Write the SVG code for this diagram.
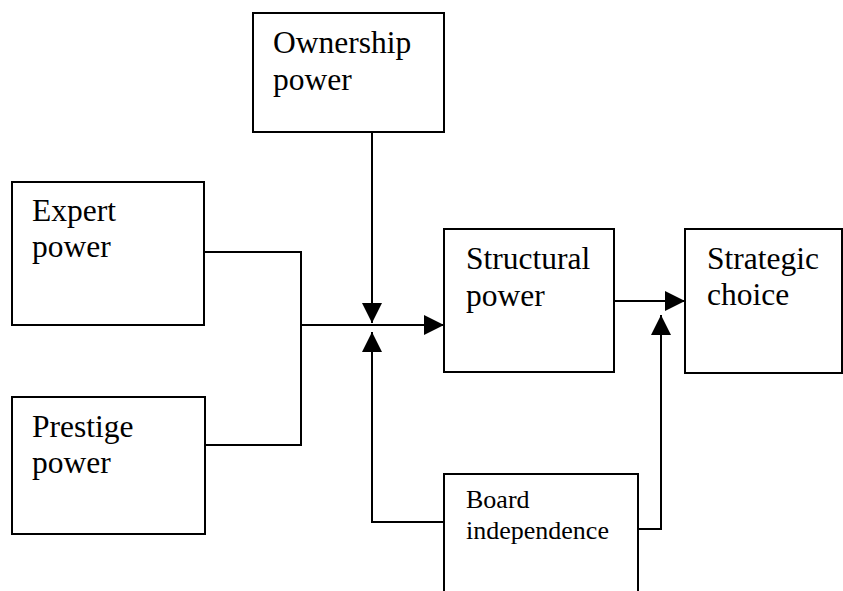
<svg xmlns="http://www.w3.org/2000/svg" width="843" height="591" viewBox="0 0 843 591" font-family="'Liberation Serif', 'Times New Roman', serif">
<style>
.box{fill:none;stroke:#000;stroke-width:2}
.t{font-family:'Liberation Serif','Times New Roman',serif;font-size:31.5px;fill:#000}
.s{font-size:26px}
.c{fill:none;stroke:#000;stroke-width:2}
</style>
<defs>
<marker id="ah" markerUnits="userSpaceOnUse" markerWidth="20" markerHeight="20" viewBox="0 0 20 20" refX="20" refY="10" orient="auto">
<path d="M0,0 L20,10 L0,20 Z" fill="#000"/>
</marker>
</defs>
<rect width="843" height="591" fill="#fff"/>
<g id="connectors">
<path class="c" d="M204,252 H301 V445 H205"/>
<path class="c" d="M301,325 H444" marker-end="url(#ah)"/>
<path class="c" d="M372,132 V323" marker-end="url(#ah)"/>
<path class="c" d="M444,522 H372 V332" marker-end="url(#ah)"/>
<path class="c" d="M614,301 H685" marker-end="url(#ah)"/>
<path class="c" d="M638,529 H661 V315" marker-end="url(#ah)"/>
</g>
<g id="ownership">
<rect class="box" x="253" y="13" width="191" height="119"/>
<text class="t" x="273" y="53">Ownership</text>
<text class="t" x="273" y="90">power</text>
</g>
<g id="expert">
<rect class="box" x="12" y="182" width="192" height="143"/>
<text class="t" x="32" y="221">Expert</text>
<text class="t" x="32" y="257">power</text>
</g>
<g id="prestige">
<rect class="box" x="12" y="397" width="193" height="137"/>
<text class="t" x="32" y="437">Prestige</text>
<text class="t" x="32" y="473">power</text>
</g>
<g id="structural">
<rect class="box" x="444" y="229" width="170" height="143"/>
<text class="t" x="466" y="269">Structural</text>
<text class="t" x="466" y="306">power</text>
</g>
<g id="strategic">
<rect class="box" x="685" y="229" width="157" height="144"/>
<text class="t" x="707" y="269">Strategic</text>
<text class="t" x="707" y="305">choice</text>
</g>
<g id="board">
<rect class="box" x="444" y="474" width="194" height="130"/>
<text class="t s" x="466" y="508">Board</text>
<text class="t s" x="466" y="539">independence</text>
</g>
</svg>
